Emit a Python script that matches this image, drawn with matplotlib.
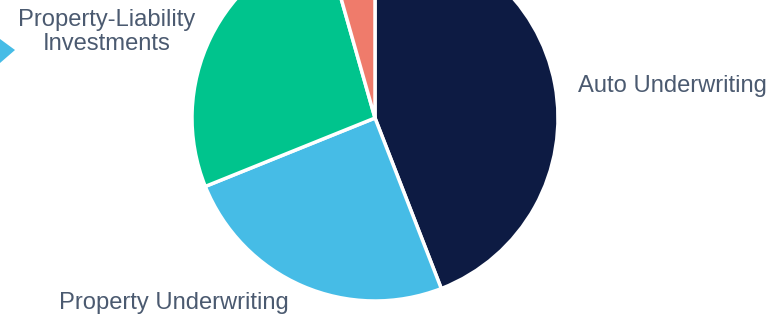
import matplotlib
matplotlib.use("Agg")
import matplotlib.pyplot as plt
from matplotlib.patches import Polygon

# slice shares (percent), clockwise from 12 o'clock
segments = ["Auto Underwriting", "Property Underwriting",
            "Property-Liability\nInvestments", "Other"]
shares = [44.1, 24.8, 26.7, 4.4]
colors = ["#0d1b43", "#46bce6", "#00c48d", "#ef7b6b"]

TEXT = "#4b5a70"
plt.rcParams['font.family'] = ['Liberation Sans', 'DejaVu Sans']

fig = plt.figure(figsize=(7.84, 3.18), dpi=100)
ax = fig.add_axes([0, 0, 1, 1])

ax.pie(shares, colors=colors, startangle=90, counterclock=False,
       center=(375, 200), radius=183, frame=True,
       wedgeprops=dict(edgecolor="white", linewidth=2.5))
ax.set_xlim(0, 784)
ax.set_ylim(0, 318)
ax.set_aspect("auto")
ax.axis("off")

ax.text(578, 232, segments[0], fontsize=17.1, color=TEXT, ha="left", va="center")
ax.text(59, 15, segments[1], fontsize=17.1, color=TEXT, ha="left", va="center")
ax.text(107, 286, segments[2], fontsize=17.1, color=TEXT, ha="center",
        va="center", linespacing=1.15)

# leader arrow stub at left edge
ax.add_patch(Polygon([[0, 279], [15, 268], [0, 255]], closed=True,
                     facecolor="#46bce6", edgecolor="none"))

fig.savefig("out.png", dpi=100)
